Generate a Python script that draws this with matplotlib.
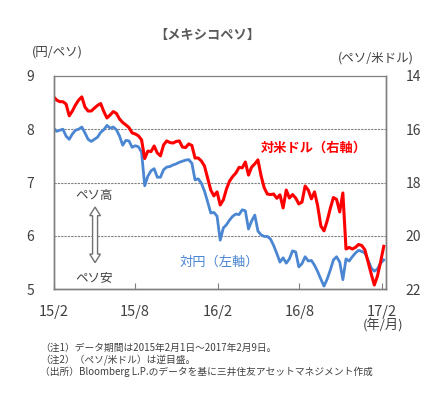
import matplotlib.pyplot as plt
import matplotlib.patches as mpatches
import pandas as pd

plt.rcParams['font.family'] = ['Noto Sans CJK JP', 'DejaVu Sans']

# weekly samples, 2015/2/1 - 2017/2/5
dates = pd.date_range('2015-02-01', periods=106, freq='7D')

# JPY per MXN (left axis)
jpy_mxn = [8.02, 7.96, 7.98, 8.00, 7.87, 7.81, 7.91, 7.98, 8.00, 8.04,
           7.93, 7.81, 7.77, 7.81, 7.85, 7.94, 7.99, 8.07, 8.02, 8.04,
           7.99, 7.87, 7.70, 7.79, 7.78, 7.66, 7.69, 7.67, 7.57, 6.94,
           7.12, 7.22, 7.26, 7.10, 7.10, 7.24, 7.29, 7.30, 7.33, 7.35,
           7.38, 7.40, 7.42, 7.43, 7.36, 7.05, 7.07, 6.99, 6.84, 6.64,
           6.43, 6.44, 6.37, 5.92, 6.15, 6.21, 6.30, 6.37, 6.41, 6.40,
           6.49, 6.47, 6.13, 6.28, 6.39, 6.09, 6.02, 5.99, 5.99, 5.94,
           5.82, 5.67, 5.51, 5.59, 5.49, 5.57, 5.72, 5.70, 5.42, 5.48,
           5.61, 5.53, 5.54, 5.45, 5.33, 5.19, 5.06, 5.19, 5.36, 5.55,
           5.61, 5.51, 5.18, 5.57, 5.53, 5.61, 5.68, 5.73, 5.71, 5.68,
           5.55, 5.40, 5.34, 5.38, 5.49, 5.55]

# MXN per USD (right axis, inverted)
mxn_usd = [14.78, 14.91, 14.97, 14.97, 15.06, 15.50, 15.32, 15.09, 14.91, 14.79,
           15.17, 15.32, 15.32, 15.21, 15.11, 15.04, 15.34, 15.58, 15.47, 15.34,
           15.41, 15.62, 15.75, 15.84, 15.94, 16.14, 16.18, 16.25, 16.40, 17.10,
           16.82, 16.84, 16.63, 16.89, 17.00, 16.59, 16.44, 16.50, 16.52, 16.46,
           16.44, 16.67, 16.69, 16.55, 16.61, 17.08, 17.08, 17.19, 17.38, 17.83,
           18.28, 18.50, 18.35, 18.84, 18.65, 18.24, 17.94, 17.77, 17.64, 17.43,
           17.45, 17.23, 17.72, 17.42, 17.30, 17.15, 17.75, 18.20, 18.43, 18.45,
           18.43, 18.59, 18.46, 18.95, 18.28, 18.58, 18.45, 18.58, 18.80, 18.73,
           18.13, 18.28, 18.61, 18.35, 18.88, 19.63, 19.81, 19.44, 18.97, 18.56,
           18.63, 19.10, 18.39, 20.49, 20.43, 20.49, 20.43, 20.32, 20.36, 20.52,
           20.97, 21.42, 21.84, 21.50, 20.97, 20.39]

tick_dates = pd.to_datetime(['2015-02-01', '2015-08-01', '2016-02-01',
                             '2016-08-01', '2017-02-01'])
tick_labels = ['15/2', '15/8', '16/2', '16/8', '17/2']

W, H = 445, 399
fig = plt.figure(figsize=(W / 100, H / 100), dpi=100)
ax = fig.add_axes([53.5 / W, 1 - 289.3 / H, 332.5 / W, 213.5 / H])
ax2 = ax.twinx()

blue = '#4a86d2'
red = '#ff0000'
grey = '#7f7f7f'
txt = '#404040'

ax.plot(dates, jpy_mxn, color=blue, lw=2.0)
ax2.plot(dates, mxn_usd, color=red, lw=2.2)

ax.set_ylim(5, 9)
ax.set_yticks([5, 6, 7, 8, 9])
ax2.set_ylim(22, 14)
ax2.set_yticks([14, 16, 18, 20, 22])
ax.set_xlim(pd.Timestamp('2015-02-01'), pd.Timestamp('2017-02-10'))
ax.set_xticks(tick_dates)
ax.set_xticklabels(tick_labels)

for y in [6, 7, 8]:
    ax.axhline(y, color=grey, lw=0.8, ls=(0, (2, 1)), zorder=0)

for a in (ax, ax2):
    for s in a.spines.values():
        s.set_color(grey)
        s.set_linewidth(1.0)
    a.spines['top'].set_linestyle((0, (2, 1)))
    a.spines['top'].set_linewidth(0.8)

ax.tick_params(axis='y', length=0, pad=14, labelsize=10, labelcolor=txt)
ax2.tick_params(axis='y', length=0, pad=14, labelsize=10, labelcolor=txt)
ax.tick_params(axis='x', direction='in', length=4, color=grey, pad=11,
               labelsize=10.5, labelcolor=txt)

# titles and axis units
fig.text(207 / W, 1 - 35 / H, '【メキシコペソ】', ha='center', va='center',
         fontsize=9.5, fontweight='bold', color='#595959')
fig.text(57 / W, 1 - 52 / H, '(円/ペソ)', ha='center', va='center',
         fontsize=9, color=txt)
fig.text(376 / W, 1 - 58 / H, '(ペソ/米ドル)', ha='center', va='center',
         fontsize=9, color=txt)
fig.text(383 / W, 1 - 325 / H, '(年/月)', ha='center', va='center',
         fontsize=9.5, color=txt)

# series labels
ax.text(0.783, 0.662, '対米ドル（右軸）', transform=ax.transAxes, ha='center',
        va='center', fontsize=9.5, fontweight='bold', color=red)
ax.text(0.50, 0.128, '対円（左軸）', transform=ax.transAxes, ha='center',
        va='center', fontsize=9.5, color=blue)

# peso high / low with hollow double arrow
ax.text(0.122, 0.44, 'ペソ高', transform=ax.transAxes, ha='center',
        va='center', fontsize=9, color=txt)
ax.text(0.122, 0.055, 'ペソ安', transform=ax.transAxes, ha='center',
        va='center', fontsize=9, color=txt)
cx, yt, yb = 0.125, 0.385, 0.125
sw, hw, hl = 0.0075, 0.016, 0.04
arrow = mpatches.Polygon(
    [(cx, yt), (cx + hw, yt - hl), (cx + sw, yt - hl), (cx + sw, yb + hl),
     (cx + hw, yb + hl), (cx, yb), (cx - hw, yb + hl), (cx - sw, yb + hl),
     (cx - sw, yt - hl), (cx - hw, yt - hl)],
    closed=True, transform=ax.transAxes, facecolor='white',
    edgecolor='#707070', lw=1.0, zorder=5)
ax.add_patch(arrow)

# notes
notes = ['（注1）データ期間は2015年2月1日～2017年2月9日。',
         '（注2）（ペソ/米ドル）は逆目盛。',
         '（出所）Bloomberg L.P.のデータを基に三井住友アセットマネジメント作成']
for i, n in enumerate(notes):
    fig.text(40 / W, 1 - (348 + 12 * i) / H, n, ha='left', va='center',
             fontsize=7, color=txt)

fig.savefig('out.png', dpi=100)
